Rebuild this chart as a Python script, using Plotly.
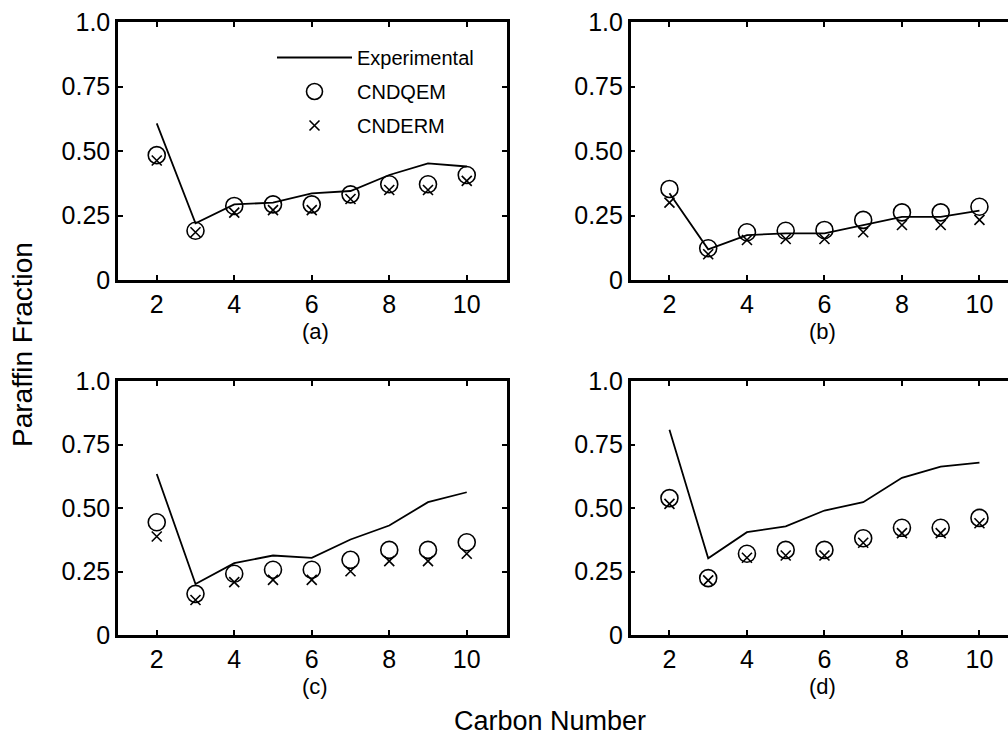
import plotly.graph_objects as go

W, H = 1008, 738

carbon = [2, 3, 4, 5, 6, 7, 8, 9, 10]

exp_a = [0.607, 0.220, 0.293, 0.300, 0.336, 0.345, 0.407, 0.452, 0.440]
qem_a = [0.484, 0.191, 0.287, 0.293, 0.293, 0.332, 0.371, 0.371, 0.407]
erm_a = [0.463, 0.185, 0.261, 0.271, 0.271, 0.314, 0.349, 0.349, 0.384]

exp_b = [0.336, 0.119, 0.174, 0.181, 0.181, 0.213, 0.245, 0.245, 0.269]
qem_b = [0.353, 0.123, 0.185, 0.191, 0.194, 0.233, 0.262, 0.262, 0.284]
erm_b = [0.300, 0.100, 0.155, 0.159, 0.159, 0.185, 0.213, 0.213, 0.233]

exp_c = [0.634, 0.201, 0.283, 0.313, 0.304, 0.376, 0.431, 0.523, 0.562]
qem_c = [0.444, 0.162, 0.241, 0.257, 0.257, 0.296, 0.335, 0.335, 0.365]
erm_c = [0.388, 0.138, 0.208, 0.217, 0.217, 0.251, 0.291, 0.291, 0.320]

exp_d = [0.808, 0.302, 0.405, 0.428, 0.490, 0.523, 0.619, 0.663, 0.679]
qem_d = [0.539, 0.224, 0.320, 0.335, 0.335, 0.381, 0.422, 0.422, 0.461]
erm_d = [0.516, 0.215, 0.304, 0.313, 0.313, 0.363, 0.401, 0.401, 0.440]

panel_labels = ["(a)", "(b)", "(c)", "(d)"]
xticks = [2, 4, 6, 8, 10]
yticks = [0, 0.25, 0.5, 0.75, 1.0]
yticktext = ["0", "0.25", "0.50", "0.75", "1.0"]

FONT = "Arial, Liberation Sans, sans-serif"

def px_x(p):
    return p / W

def px_y(p):
    return 1 - p / H

# panel boxes in pixels: (left, right, top, bottom)
boxes = [
    (118, 507, 22, 280),
    (630.7, 1008, 22, 280),
    (118, 507, 381, 635),
    (630.7, 1008, 381, 635),
]
unit_px = 38.75

fig = go.Figure()
series = [(exp_a, qem_a, erm_a), (exp_b, qem_b, erm_b),
          (exp_c, qem_c, erm_c), (exp_d, qem_d, erm_d)]

for i, (ex, qe, er) in enumerate(series):
    n = "" if i == 0 else str(i + 1)
    xa, ya = "x" + n, "y" + n
    show = i == 0
    fig.add_trace(go.Scatter(x=carbon, y=ex, mode="lines", name="Experimental",
                             line=dict(color="black", width=1.8),
                             xaxis=xa, yaxis=ya, showlegend=show, legendgroup="e"))
    fig.add_trace(go.Scatter(x=carbon, y=qe, mode="markers", name="CNDQEM",
                             marker=dict(symbol="circle-open", size=17, color="black",
                                         line=dict(width=1.6, color="black")),
                             xaxis=xa, yaxis=ya, showlegend=show, legendgroup="q"))
    fig.add_trace(go.Scatter(x=carbon, y=er, mode="markers", name="CNDERM",
                             marker=dict(symbol="x-thin-open", size=10, color="black",
                                         line=dict(width=1.6, color="black")),
                             xaxis=xa, yaxis=ya, showlegend=show, legendgroup="r"))

layout = {}
for i, (l, r, t, b) in enumerate(boxes):
    n = "" if i == 0 else str(i + 1)
    right_unit = 1 + (r - l) / unit_px
    clipped = i in (1, 3)
    layout["xaxis" + n] = dict(
        domain=[px_x(l), px_x(r)], range=[1, right_unit], anchor="y" + n,
        tickvals=xticks, ticks="inside", ticklen=5, tickwidth=1.5, tickcolor="black",
        showline=True, linewidth=2.5, linecolor="black", mirror="ticks",
        showgrid=False, zeroline=False, automargin=False,
        tickfont=dict(family=FONT, size=25, color="black"),
    )
    layout["yaxis" + n] = dict(
        domain=[px_y(b), px_y(t)], range=[0, 1], anchor="x" + n,
        tickvals=yticks, ticktext=yticktext, ticks="inside", ticklen=5, tickwidth=1.5,
        tickcolor="black", showline=True, linewidth=2.5, linecolor="black",
        mirror=False if clipped else "ticks",
        showgrid=False, zeroline=False, automargin=False,
        tickfont=dict(family=FONT, size=25, color="black"),
    )

annotations = []
label_pos = [(315, 331), (822, 331), (315, 686), (822, 686)]
for lab, (cx, cy) in zip(panel_labels, label_pos):
    annotations.append(dict(text=lab, x=px_x(cx), y=px_y(cy), xref="paper", yref="paper",
                            showarrow=False, xanchor="center", yanchor="middle",
                            font=dict(family=FONT, size=22, color="black")))
annotations.append(dict(text="Carbon Number", x=px_x(550), y=px_y(721), xref="paper",
                        yref="paper", showarrow=False, xanchor="center", yanchor="middle",
                        font=dict(family=FONT, size=27, color="black")))
annotations.append(dict(text="Paraffin Fraction", x=px_x(22), y=px_y(345), xref="paper",
                        yref="paper", showarrow=False, xanchor="center", yanchor="middle",
                        textangle=-90, font=dict(family=FONT, size=28, color="black")))

fig.update_layout(
    template="none",
    width=W, height=H,
    margin=dict(l=0, r=0, t=0, b=0, pad=0, autoexpand=False),
    paper_bgcolor="white", plot_bgcolor="white",
    annotations=annotations,
    showlegend=True,
    legend=dict(x=px_x(272), y=px_y(38), xanchor="left", yanchor="top",
                bgcolor="rgba(0,0,0,0)", borderwidth=0, itemwidth=75,
                tracegroupgap=5, traceorder="grouped",
                font=dict(family=FONT, size=20, color="black")),
    **layout,
)

fig.write_html("out.html")
